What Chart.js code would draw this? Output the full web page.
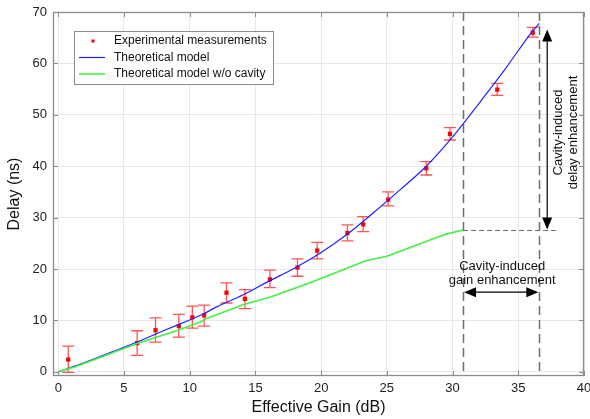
<!DOCTYPE html>
<html><head><meta charset="utf-8">
<script src="https://cdn.jsdelivr.net/npm/chart.js@4.4.0/dist/chart.umd.min.js"></script>
<style>html,body{margin:0;padding:0;background:#fff}#wrap{width:590px;height:419px}</style>
</head><body><div id="wrap"><canvas id="c" width="590" height="419"></canvas></div>
<script>
// Experimental measurements (gain dB, delay ns, error bar bottom/top)
const expGain  = [0.76, 6.0, 7.4, 9.17, 10.2, 11.1, 12.8, 14.2, 16.1, 18.2, 19.7, 22.0, 23.2, 25.1, 28.0, 29.8, 33.4, 36.1];
const expDelay = [2.4, 5.6, 8.1, 8.9, 10.6, 11.0, 15.4, 14.2, 18.0, 20.3, 23.6, 27.0, 28.7, 33.5, 39.6, 46.3, 54.9, 66.0];
const expLow   = [-0.1, 3.2, 5.8, 6.75, 8.5, 8.9, 13.4, 12.3, 16.4, 18.6, 22.0, 25.5, 27.3, 32.3, 38.3, 45.1, 53.8, 65.1];
const expHigh  = [5.0, 8.0, 10.5, 11.2, 12.8, 13.0, 17.3, 16.0, 19.8, 22.0, 25.2, 28.6, 30.2, 35.0, 40.9, 47.5, 56.1, 67.0];

// Theoretical model
const modelGain  = [0, 2, 4, 6, 8, 10, 11, 12, 14, 16, 18, 20, 22, 24, 26, 28, 30, 32, 34, 36, 36.6];
const modelDelay = [0, 1.8, 3.8, 5.8, 8.0, 10.1, 11.2, 12.6, 14.9, 17.6, 20.2, 23.2, 26.8, 31.0, 35.4, 40.0, 45.7, 52.2, 58.9, 66.0, 67.8];

// Theoretical model w/o cavity
const noCavGain  = [0, 1.3, 6.0, 9.0, 10.8, 11.3, 14.0, 16.2, 19.0, 20.6, 23.4, 25.0, 29.5, 30.8];
const noCavDelay = [0, 1.0, 5.5, 8.0, 9.7, 10.4, 13.0, 14.6, 17.2, 18.8, 21.6, 22.5, 26.8, 27.6];

// Axis ticks
const xTicks = [0, 5, 10, 15, 20, 25, 30, 35, 40];
const yTicks = [0, 10, 20, 30, 40, 50, 60, 70];

// Annotation values (data units)
const gainMarkers = [30.8, 36.6];      // dashed vertical lines
const cavityDelayLevel = 27.6;         // dashed horizontal line
const cavityDelayLineEnd = 38.0;
const delayArrowGain = 37.2;
const delayArrowRange = [27.7, 66.6];
const gainArrowDelay = 15.5;
const gainText = ["Cavity-induced", "gain enhancement"];
const delayText = ["Cavity-induced", "delay enhancement"];

const FONT = "'Liberation Sans', Arial, sans-serif";

function arrowHead(ctx, x, y, dir) {
  const L = 12, W = 5;
  ctx.beginPath();
  if (dir === 'up') { ctx.moveTo(x, y); ctx.lineTo(x - W, y + L); ctx.lineTo(x + W, y + L); }
  if (dir === 'down') { ctx.moveTo(x, y); ctx.lineTo(x - W, y - L); ctx.lineTo(x + W, y - L); }
  if (dir === 'left') { ctx.moveTo(x, y); ctx.lineTo(x + L, y - W); ctx.lineTo(x + L, y + W); }
  if (dir === 'right') { ctx.moveTo(x, y); ctx.lineTo(x - L, y - W); ctx.lineTo(x - L, y + W); }
  ctx.closePath(); ctx.fill();
}

const decor = {
  id: 'decor',
  beforeDatasetsDraw(chart) {
    const ctx = chart.ctx, xs = chart.scales.x, ys = chart.scales.y, a = chart.chartArea;
    ctx.save();
    ctx.strokeStyle = '#6e6e6e'; ctx.lineWidth = 1.5; ctx.setLineDash([9, 5]);
    gainMarkers.forEach(g => {
      const px = Math.round(xs.getPixelForValue(g)) + 0.5;
      ctx.beginPath(); ctx.moveTo(px, a.top); ctx.lineTo(px, a.bottom); ctx.stroke();
    });
    ctx.lineWidth = 1; ctx.setLineDash([5, 3]);
    const hy = Math.round(ys.getPixelForValue(cavityDelayLevel)) + 0.5;
    ctx.beginPath(); ctx.moveTo(xs.getPixelForValue(gainMarkers[0]), hy); ctx.lineTo(xs.getPixelForValue(cavityDelayLineEnd), hy); ctx.stroke();
    ctx.setLineDash([]);
    ctx.strokeStyle = 'rgba(255,40,40,0.8)'; ctx.lineWidth = 1.3;
    expGain.forEach((g, i) => {
      const px = xs.getPixelForValue(g);
      const t = ys.getPixelForValue(expHigh[i]), b = ys.getPixelForValue(expLow[i]);
      ctx.beginPath();
      ctx.moveTo(px, t); ctx.lineTo(px, b);
      ctx.moveTo(px - 6, t); ctx.lineTo(px + 6, t);
      ctx.moveTo(px - 6, b); ctx.lineTo(px + 6, b);
      ctx.stroke();
    });
    ctx.restore();
  },
  afterDraw(chart) {
    const ctx = chart.ctx, xs = chart.scales.x, ys = chart.scales.y, a = chart.chartArea;
    ctx.save();
    ctx.strokeStyle = '#8c8c8c'; ctx.lineWidth = 1.3;
    ctx.strokeRect(a.left + 0.5, a.top + 0.5, a.right - a.left - 1, a.bottom - a.top - 1);
    ctx.lineWidth = 1;
    xTicks.forEach(v => {
      const px = Math.round(xs.getPixelForValue(v)) + 0.5;
      ctx.beginPath(); ctx.moveTo(px, a.bottom); ctx.lineTo(px, a.bottom - 5);
      ctx.moveTo(px, a.top); ctx.lineTo(px, a.top + 5); ctx.stroke();
    });
    yTicks.forEach(v => {
      const py = Math.round(ys.getPixelForValue(v)) + 0.5;
      ctx.beginPath(); ctx.moveTo(a.left, py); ctx.lineTo(a.left + 5, py);
      ctx.moveTo(a.right, py); ctx.lineTo(a.right - 5, py); ctx.stroke();
    });
    ctx.strokeStyle = '#000'; ctx.fillStyle = '#000'; ctx.lineWidth = 1.2;
    const vx = xs.getPixelForValue(delayArrowGain);
    const vy0 = ys.getPixelForValue(delayArrowRange[0]), vy1 = ys.getPixelForValue(delayArrowRange[1]);
    ctx.beginPath(); ctx.moveTo(vx, vy0 - 6); ctx.lineTo(vx, vy1 + 6); ctx.stroke();
    arrowHead(ctx, vx, vy1, 'up'); arrowHead(ctx, vx, vy0, 'down');
    const hy = ys.getPixelForValue(gainArrowDelay);
    const hx0 = xs.getPixelForValue(gainMarkers[0]), hx1 = xs.getPixelForValue(gainMarkers[1]);
    ctx.beginPath(); ctx.moveTo(hx0 + 6, hy); ctx.lineTo(hx1 - 6, hy); ctx.stroke();
    arrowHead(ctx, hx0 + 1, hy, 'left'); arrowHead(ctx, hx1 - 1, hy, 'right');
    ctx.fillStyle = '#111'; ctx.font = '13px ' + FONT; ctx.textAlign = 'center'; ctx.textBaseline = 'middle';
    const tx = (hx0 + hx1) / 2 + 1;
    ctx.fillText(gainText[0], tx, hy - 26);
    ctx.fillText(gainText[1], tx, hy - 12);
    ctx.save();
    ctx.translate(vx + 18, (vy0 + vy1) / 2 + 3);
    ctx.rotate(-Math.PI / 2);
    ctx.fillText(delayText[0], 0, -7);
    ctx.fillText(delayText[1], 0, 8);
    ctx.restore();
    const L = {x: 74, y: 31, w: 199, h: 53};
    ctx.fillStyle = '#fff'; ctx.fillRect(L.x, L.y, L.w, L.h);
    ctx.strokeStyle = '#8c8c8c'; ctx.lineWidth = 1; ctx.strokeRect(L.x + 0.5, L.y + 0.5, L.w, L.h);
    ctx.textAlign = 'left'; ctx.font = '12px ' + FONT;
    const rows = [41, 57.5, 74];
    ctx.fillStyle = '#ff0000'; ctx.fillRect(91.5, rows[0] - 1.5, 3, 3);
    ctx.strokeStyle = '#2222ff'; ctx.lineWidth = 1.2;
    ctx.beginPath(); ctx.moveTo(79, rows[1]); ctx.lineTo(105, rows[1]); ctx.stroke();
    ctx.strokeStyle = '#44ee44'; ctx.lineWidth = 1.6;
    ctx.beginPath(); ctx.moveTo(79, rows[2]); ctx.lineTo(105, rows[2]); ctx.stroke();
    ctx.fillStyle = '#111';
    ctx.fillText('Experimental measurements', 114, rows[0]);
    ctx.fillText('Theoretical model', 114, rows[1]);
    ctx.fillText('Theoretical model w/o cavity', 114, rows[2]);
    ctx.restore();
  }
};

const toPts = (xa, ya) => xa.map((x, i) => ({x, y: ya[i]}));

new Chart(document.getElementById('c'), {
  type: 'scatter',
  data: {
    datasets: [
      {label: 'Theoretical model w/o cavity', data: toPts(noCavGain, noCavDelay), showLine: true,
       borderColor: '#44ee44', borderWidth: 1.6, pointRadius: 0, tension: 0},
      {label: 'Theoretical model', data: toPts(modelGain, modelDelay), showLine: true,
       borderColor: '#2222ff', borderWidth: 1.2, pointRadius: 0, cubicInterpolationMode: 'monotone'},
      {label: 'Experimental measurements', data: toPts(expGain, expDelay), showLine: false,
       pointStyle: 'rect', pointRadius: 3, backgroundColor: '#ff0000', borderColor: '#ff0000', borderWidth: 0}
    ]
  },
  options: {
    responsive: false, animation: false, devicePixelRatio: 1,
    layout: {padding: {left: 0, right: 6, top: 12, bottom: 0}},
    plugins: {legend: {display: false}, tooltip: {enabled: false}},
    scales: {
      x: {
        type: 'linear', min: -0.4, max: 40,
        afterBuildTicks: s => { s.ticks = xTicks.map(v => ({value: v})); },
        afterFit: s => { s.height = 43; s.paddingLeft = 0; s.paddingRight = 0; },
        grid: {color: '#e8e8e8', lineWidth: 1, drawTicks: false},
        border: {display: false},
        ticks: {color: '#222', font: {family: FONT, size: 13}, padding: 5, maxRotation: 0},
        title: {display: true, text: 'Effective Gain (dB)', color: '#111', font: {family: FONT, size: 16}, padding: {top: 0, bottom: 2}}
      },
      y: {
        type: 'linear', min: -0.8, max: 70,
        afterBuildTicks: s => { s.ticks = yTicks.map(v => ({value: v})); },
        afterFit: s => { s.width = 53; s.paddingTop = 0; s.paddingBottom = 0; },
        grid: {color: '#e8e8e8', lineWidth: 1, drawTicks: false},
        border: {display: false},
        ticks: {color: '#222', font: {family: FONT, size: 13}, padding: 6},
        title: {display: true, text: 'Delay (ns)', color: '#111', font: {family: FONT, size: 16}, padding: {top: 5, bottom: 0}}
      }
    }
  },
  plugins: [decor]
});
</script></body></html>
